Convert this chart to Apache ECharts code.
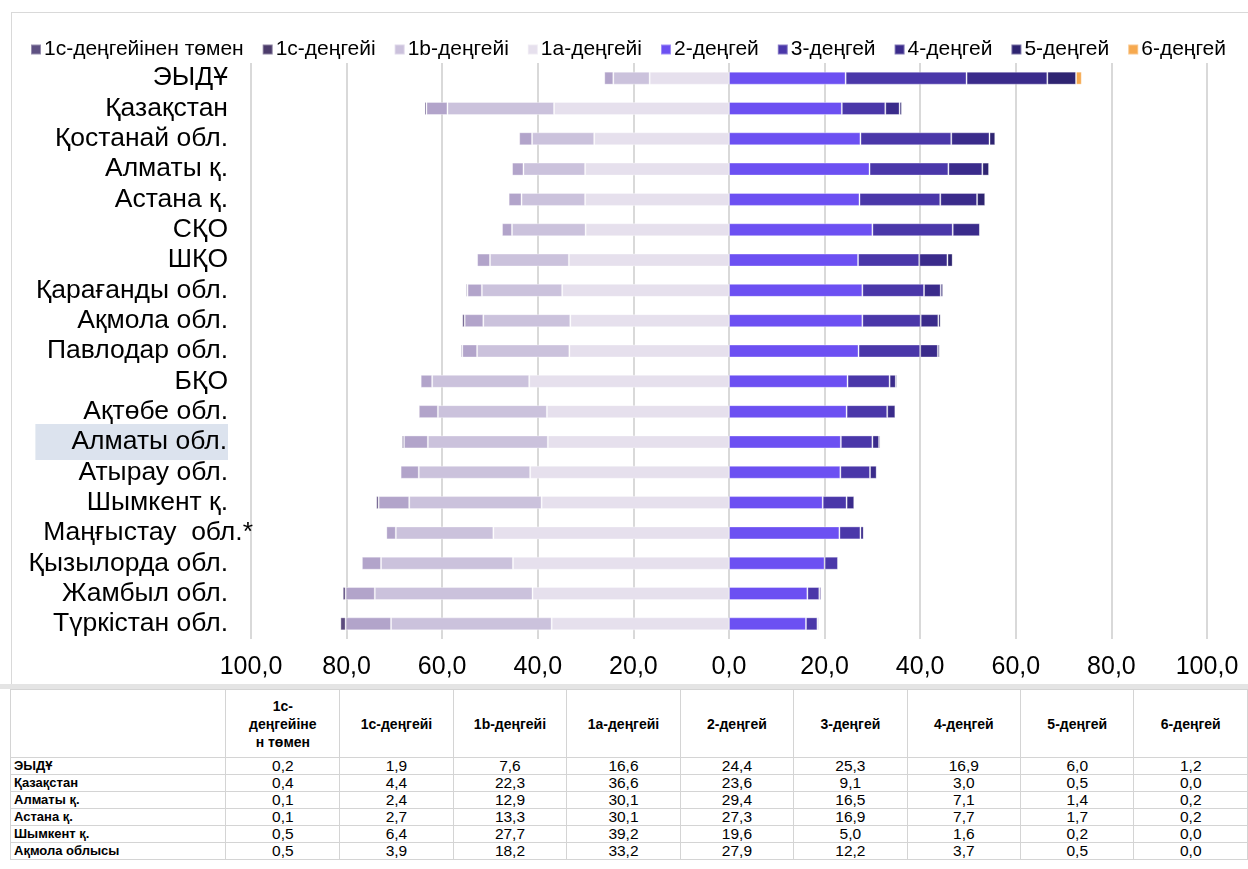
<!DOCTYPE html>
<html><head><meta charset="utf-8">
<script src="https://cdn.jsdelivr.net/npm/echarts@6/dist/echarts.min.js"></script>
<style>
html,body{margin:0;padding:0;background:#fff;}
body{width:1248px;height:869px;overflow:hidden;position:relative;font-family:'Liberation Sans',Arial,sans-serif;}
#frame{position:absolute;left:11px;top:12px;width:1260px;height:672px;border-left:1px solid #d9d9d9;border-top:1px solid #d9d9d9;}
#sep{position:absolute;left:0;top:684px;width:1248px;height:5px;background:#e4e4e4;}
#chart{position:absolute;left:0;top:0;width:1248px;height:684px;}
table{position:absolute;left:10px;top:689px;border-collapse:collapse;table-layout:fixed;color:#000;}
td,th{border:1px solid #d4d4d4;padding:0 3px;}
th{font-size:14px;font-weight:bold;height:67px;text-align:center;vertical-align:middle;line-height:18px;white-space:pre-line;}
td{font-size:15.5px;height:16px;line-height:16px;text-align:center;}
td.n{font-weight:bold;text-align:left;font-size:13px;}
</style>
</head><body>
<div id="frame"></div>
<div id="chart"></div>
<div id="sep"></div>
<table id="tbl"></table>
<script>
const categories = ['ЭЫДҰ','Қазақстан','Қостанай обл.','Алматы қ.','Астана қ.','СҚО','ШҚО','Қарағанды обл.','Ақмола обл.','Павлодар обл.','БҚО','Ақтөбе обл.','Алматы обл.','Атырау обл.','Шымкент қ.','Маңғыстау  обл.*','Қызылорда обл.','Жамбыл обл.','Түркістан обл.'];
const seriesNames = ['1с-деңгейінен төмен','1с-деңгейі','1b-деңгейі','1a-деңгейі','2-деңгей','3-деңгей','4-деңгей','5-деңгей','6-деңгей'];
const below1c = [0.2,0.4,0.2,0.1,0.1,0.1,0.2,0.3,0.5,0.3,0.1,0.1,0.4,0.1,0.5,0.1,0.2,0.6,1.1];
const level1c = [1.9,4.4,2.7,2.4,2.7,2.1,2.7,3.0,3.9,3.1,2.4,4.0,5.0,3.8,6.4,2.0,4.0,6.1,9.5];
const level1b = [7.6,22.3,13.0,12.9,13.3,15.4,16.5,16.8,18.2,19.3,20.3,22.8,25.1,23.3,27.7,20.4,27.6,33.0,33.6];
const level1a = [16.6,36.6,28.2,30.1,30.1,30.0,33.5,34.9,33.2,33.4,41.8,38.1,37.9,41.6,39.2,49.3,45.2,41.1,37.1];
const level2 = [24.4,23.6,27.5,29.4,27.3,30.0,27.0,27.9,27.9,27.1,24.8,24.6,23.4,23.3,19.6,23.1,20.0,16.4,16.1];
const level3 = [25.3,9.1,19.0,16.5,16.9,16.8,12.8,12.9,12.2,12.9,8.8,8.5,6.6,6.2,5.0,4.4,2.8,2.5,2.4];
const level4 = [16.9,3.0,8.0,7.1,7.7,5.7,5.9,3.5,3.7,3.7,1.3,1.7,1.4,1.4,1.6,0.7,0.2,0.4,0.3];
const level5 = [6.0,0.5,1.2,1.4,1.7,0.1,1.1,0.5,0.5,0.4,0.3,0.2,0.3,0.2,0.2,0.1,0.0,0.0,0.0];
const level6 = [1.2,0.0,0.1,0.2,0.2,0.0,0.1,0.0,0.0,0.0,0.0,0.0,0.0,0.0,0.0,0.0,0.0,0.0,0.0];
const axisTicks = [-100,-80,-60,-40,-20,0,20,40,60,80,100];
const tableHeaders = ['1с-\nдеңгейіне\nн төмен','1с-деңгейі','1b-деңгейі','1a-деңгейі','2-деңгей','3-деңгей','4-деңгей','5-деңгей','6-деңгей'];
const tableRowNames = ['ЭЫДҰ','Қазақстан','Алматы қ.','Астана қ.','Шымкент қ.','Ақмола облысы'];
const tableRowIndex = [0,1,3,4,14,8];

const barColors = ['#5b4a7e','#b2a4ca','#cbc2dc','#e6e0ed','#6c50f2','#4a37a9','#3a2b8b','#2e2471','#f6a94f'];
const legendColors = ['#5e5182','#4c3c6b','#cbc1dc','#e6e0ed','#6c50f2','#4a37a9','#3a2b8b','#2e2471','#f6a94f'];
const allData = [below1c, level1c, level1b, level1a, level2, level3, level4, level5, level6];

const fmt = v => Math.abs(v).toFixed(1).replace('.', ',');

// table
let html = '<colgroup><col style="width:218px">' + tableHeaders.map(()=> '<col style="width:114.5px">').join('') + '</colgroup>';
html += '<tr><th></th>' + tableHeaders.map(h => '<th>' + h + '</th>').join('') + '</tr>';
tableRowNames.forEach((n, r) => {
  const i = tableRowIndex[r];
  html += '<tr><td class="n">' + n + '</td>' + allData.map(a => '<td>' + a[i].toFixed(1).replace('.', ',') + '</td>').join('') + '</tr>';
});
document.getElementById('tbl').innerHTML = html;

const yData = categories.map(c => {
  if (c === 'Алматы обл.') return {value: c, textStyle: {backgroundColor: '#dce3ee', padding: [5, 1, 4, 36]}};
  if (c === 'Маңғыстау  обл.*') return {value: c, textStyle: {padding: [0, -25, 0, 0]}};
  return c;
});

const order = [3, 2, 1, 0, 4, 5, 6, 7, 8]; // stacking order from zero outward
const series = order.map(k => ({
  name: seriesNames[k],
  type: 'bar',
  stack: 'total',
  barWidth: 13,
  data: allData[k].map(v => k < 4 ? -v : v),
  itemStyle: {color: barColors[k], borderColor: 'rgba(255,255,255,0.35)', borderWidth: 1},
  emphasis: {disabled: true}
}));

const chart = echarts.init(document.getElementById('chart'), null, {renderer: 'canvas'});
chart.setOption({
  animation: false,
  textStyle: {fontFamily: "'Liberation Sans', Arial, sans-serif"},
  legend: {
    top: 34, left: 25,
    itemWidth: 10, itemHeight: 10, itemGap: 18,
    icon: 'rect',
    textStyle: {fontSize: 21, color: '#000', padding: [0, 0, 0, -2]},
    data: seriesNames.map((n, i) => ({name: n, itemStyle: {color: legendColors[i]}}))
  },
  grid: {left: 251, right: 41, top: 63, bottom: 45, containLabel: false},
  xAxis: {
    type: 'value', min: axisTicks[0], max: axisTicks[axisTicks.length - 1], interval: 20,
    axisLine: {show: false}, axisTick: {show: false},
    splitLine: {show: true, lineStyle: {color: '#d9d9d9', width: 2}},
    axisLabel: {formatter: fmt, fontSize: 25, color: '#000', margin: 16}
  },
  yAxis: {
    type: 'category', inverse: true, data: yData,
    axisLine: {show: false}, axisTick: {show: false},
    axisLabel: {fontSize: 26.5, color: '#000', margin: 23, interval: 0}
  },
  series: series
});
</script>
</body></html>
